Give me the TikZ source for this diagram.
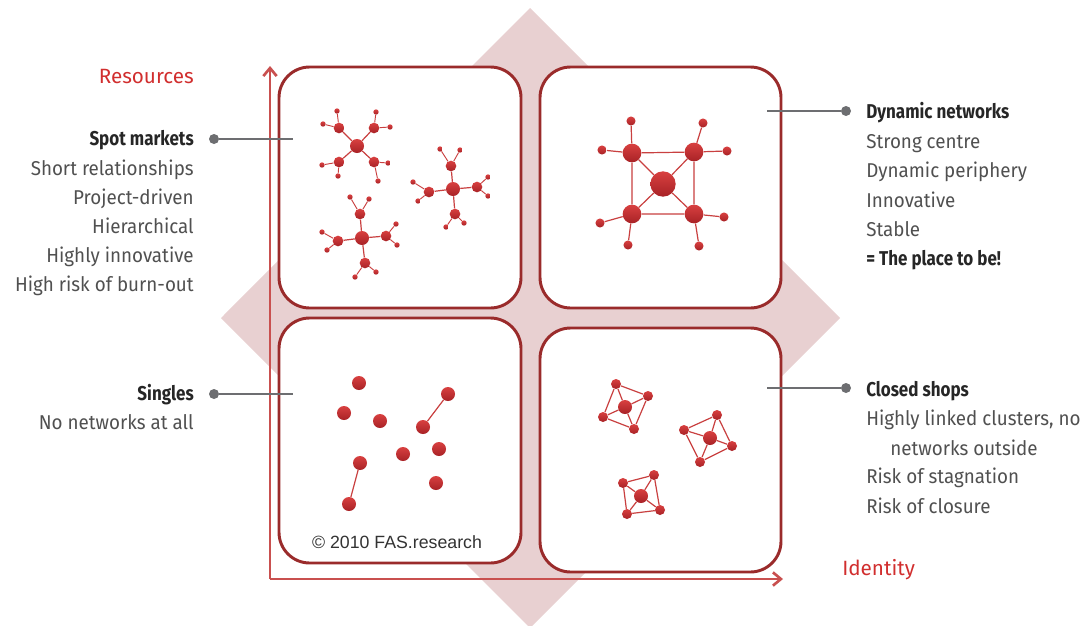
\documentclass[tikz,border=0pt]{standalone}
\usepackage{fontspec}
\setmainfont{Fira Sans}[UprightFeatures={FakeStretch=0.94},BoldFeatures={FakeStretch=0.85}]
\newfontfamily\axisfont{Fira Sans}
\newfontfamily\notefont{Liberation Sans}
\usepackage{tikz}
\usetikzlibrary{arrows.meta}
\definecolor{diamondpink}{HTML}{E8D0D1}
\definecolor{boxred}{HTML}{9A2B2B}
\definecolor{axisred}{HTML}{C9504F}
\definecolor{nodetop}{HTML}{D84040}
\definecolor{nodebot}{HTML}{A82226}
\definecolor{edgered}{HTML}{C94040}
\definecolor{labelred}{HTML}{D12E2E}
\definecolor{linkgray}{HTML}{6D6E71}
\definecolor{textgray}{HTML}{505050}

\begin{document}
\begin{tikzpicture}[x=0.75pt,y=-0.75pt,
	quadbox/.style={draw=boxred,line width=2.2pt,fill=white,rounded corners=23pt},
	axis/.style={axisred,line width=2pt,-{Straight Barb[length=6pt,width=10pt]}},
	ball/.style={circle,inner sep=0pt,top color=nodetop,bottom color=nodebot,draw=none},
	hub/.style={ball,minimum size=10.5pt},
	mid/.style={ball,minimum size=8pt},
	leaf/.style={ball,minimum size=4pt},
	bighub/.style={ball,minimum size=19pt},
	corner/.style={ball,minimum size=14pt},
	twig/.style={ball,minimum size=6.8pt},
	single/.style={ball,minimum size=10.5pt},
	knot/.style={ball,minimum size=7.5pt},
	link/.style={edgered,line width=0.9pt},
	thinlink/.style={edgered,line width=0.7pt},
	pin/.style={circle,fill=linkgray,inner sep=0pt,minimum size=7.5pt},
	lead/.style={linkgray,line width=1.7pt},
	head/.style={font=\bfseries\fontsize{15}{18}\selectfont,text=black!85,inner sep=0pt},
	body/.style={font=\fontsize{15}{18}\selectfont,text=textgray,inner sep=0pt},
	axislabel/.style={font=\axisfont\fontsize{15.5}{18}\selectfont,text=labelred,inner sep=0pt}]
\useasboundingbox (0,0) rectangle (1091,625);
\fill[diamondpink] (530,8) -- (840,318) -- (530,628) -- (221,318) -- cycle;

\draw[quadbox] (279,67) rectangle (521,308);
\draw[quadbox] (540,67) rectangle (781,308);
\draw[quadbox] (279,318) rectangle (521,563);
\draw[quadbox] (540,328) rectangle (781,572);

\coordinate (origin) at (270,579);
\coordinate (ytip) at (270,66);
\coordinate (xtip) at (783,579);
\draw[axis] (origin) -- (ytip);
\draw[axis] (origin) -- (xtip);
\node[axislabel,anchor=base east] (resources) at (194,83) {Resources};
\node[axislabel,anchor=base west] (identity) at (842,575) {Identity};

% spot markets
\node[hub] (a0) at (357,146) {};
\node[mid] (a1) at (339,128) {}; \node[mid] (a2) at (374,128) {};
\node[mid] (a3) at (339,162) {}; \node[mid] (a4) at (374,162) {};
\node[leaf] (a11) at (337,111) {}; \node[leaf] (a12) at (323,124) {};
\node[leaf] (a21) at (376,112) {}; \node[leaf] (a22) at (390,127) {};
\node[leaf] (a31) at (322,165) {}; \node[leaf] (a32) at (338,176) {};
\node[leaf] (a41) at (388,163) {}; \node[leaf] (a42) at (378,181) {};
\draw[link] (a0) -- (a1) (a0) -- (a2) (a0) -- (a3) (a0) -- (a4);
\draw[thinlink] (a1) -- (a11) (a1) -- (a12) (a2) -- (a21) (a2) -- (a22);
\draw[thinlink] (a3) -- (a31) (a3) -- (a32) (a4) -- (a41) (a4) -- (a42);

\node[hub] (b0) at (453,189) {};
\node[mid] (b1) at (451,166) {}; \node[mid] (b2) at (429,192) {};
\node[mid] (b3) at (477,187) {}; \node[mid] (b4) at (455,214) {};
\node[leaf] (b11) at (440,149) {}; \node[leaf] (b12) at (460,150) {};
\node[leaf] (b21) at (413,182) {}; \node[leaf] (b22) at (418,201) {};
\node[leaf] (b31) at (488,177) {}; \node[leaf] (b32) at (488,196) {};
\node[leaf] (b41) at (446,227) {}; \node[leaf] (b42) at (464,223) {};
\draw[link] (b0) -- (b1) (b0) -- (b2) (b0) -- (b3) (b0) -- (b4);
\draw[thinlink] (b1) -- (b11) (b1) -- (b12) (b2) -- (b21) (b2) -- (b22);
\draw[thinlink] (b3) -- (b31) (b3) -- (b32) (b4) -- (b41) (b4) -- (b42);

\node[hub] (c0) at (362,238) {};
\node[mid] (c1) at (360,214) {}; \node[mid] (c2) at (338,241) {};
\node[mid] (c3) at (386,236) {}; \node[mid] (c4) at (365,263) {};
\node[leaf] (c11) at (350,197) {}; \node[leaf] (c12) at (369,199) {};
\node[leaf] (c21) at (322,232) {}; \node[leaf] (c22) at (327,250) {};
\node[leaf] (c31) at (396,224) {}; \node[leaf] (c32) at (397,245) {};
\node[leaf] (c41) at (355,277) {}; \node[leaf] (c42) at (376,272) {};
\draw[link] (c0) -- (c1) (c0) -- (c2) (c0) -- (c3) (c0) -- (c4);
\draw[thinlink] (c1) -- (c11) (c1) -- (c12) (c2) -- (c21) (c2) -- (c22);
\draw[thinlink] (c3) -- (c31) (c3) -- (c32) (c4) -- (c41) (c4) -- (c42);

% dynamic networks
\node[bighub] (d0) at (663,184) {};
\node[corner] (d1) at (632,153) {}; \node[corner] (d2) at (694,152) {};
\node[corner] (d3) at (632,214) {}; \node[corner] (d4) at (694,214) {};
\node[twig] (d11) at (631,121) {}; \node[twig] (d12) at (602,150) {};
\node[twig] (d21) at (703,123) {}; \node[twig] (d22) at (727,151) {};
\node[twig] (d31) at (600,223) {}; \node[twig] (d32) at (628,245) {};
\node[twig] (d41) at (724,217) {}; \node[twig] (d42) at (699,246) {};
\draw[link] (d1) -- (d2) -- (d4) -- (d3) -- (d1);
\draw[link] (d0) -- (d1) (d0) -- (d2) (d0) -- (d3) (d0) -- (d4);
\draw[link] (d1) -- (d11) (d1) -- (d12) (d2) -- (d21) (d2) -- (d22);
\draw[link] (d3) -- (d31) (d3) -- (d32) (d4) -- (d41) (d4) -- (d42);

% singles
\node[single] (s1) at (359,383) {}; \node[single] (s2) at (344,413) {};
\node[single] (s3) at (380,421) {}; \node[single] (s4) at (448,394) {};
\node[single] (s5) at (423,427) {}; \node[single] (s6) at (403,454) {};
\node[single] (s7) at (439,449) {}; \node[single] (s8) at (360,463) {};
\node[single] (s9) at (436,483) {}; \node[single] (s10) at (349,504) {};
\draw[link] (s4) -- (s5) (s8) -- (s10);
\node[font=\notefont\fontsize{13.3}{16}\selectfont,text=black!80,inner sep=0pt,anchor=base] (note) at (397,548) {\textcopyright{} 2010 FAS.research};

% closed shops
\node[hub] (e0) at (625,407) {};
\node[knot] (e1) at (616,384) {}; \node[knot] (e2) at (648,396) {};
\node[knot] (e3) at (634,429) {}; \node[knot] (e4) at (603,417) {};
\draw[link] (e1) -- (e2) -- (e3) -- (e4) -- (e1);
\draw[link] (e0) -- (e1) (e0) -- (e2) (e0) -- (e3) (e0) -- (e4);

\node[hub] (f0) at (710,438) {};
\node[knot] (f1) at (717,415) {}; \node[knot] (f2) at (732,446) {};
\node[knot] (f3) at (700,462) {}; \node[knot] (f4) at (684,430) {};
\draw[link] (f1) -- (f2) -- (f3) -- (f4) -- (f1);
\draw[link] (f0) -- (f1) (f0) -- (f2) (f0) -- (f3) (f0) -- (f4);

\node[hub] (g0) at (641,496) {};
\node[knot] (g1) at (654,475) {}; \node[knot] (g2) at (660,510) {};
\node[knot] (g3) at (627,514) {}; \node[knot] (g4) at (623,483) {};
\draw[link] (g1) -- (g2) -- (g3) -- (g4) -- (g1);
\draw[link] (g0) -- (g1) (g0) -- (g2) (g0) -- (g3) (g0) -- (g4);

% labels left
\node[pin] (spotpin) at (214,139) {};
\coordinate (spotend) at (293,139);
\draw[lead] (spotpin) -- (spotend);
\node[head,anchor=base east] (spot) at (194,145) {Spot markets};
\node[body,anchor=base east] (spot1) at (194,175) {Short relationships};
\node[body,anchor=base east] (spot2) at (194,204) {Project-driven};
\node[body,anchor=base east] (spot3) at (194,233) {Hierarchical};
\node[body,anchor=base east] (spot4) at (194,262) {Highly innovative};
\node[body,anchor=base east] (spot5) at (194,291) {High risk of burn-out};

\node[pin] (singlepin) at (214,394) {};
\coordinate (singleend) at (293,394);
\draw[lead] (singlepin) -- (singleend);
\node[head,anchor=base east] (singles) at (194,400) {Singles};
\node[body,anchor=base east] (singles1) at (194,429) {No networks at all};

% labels right
\node[pin] (dynpin) at (846,111) {};
\coordinate (dynend) at (767,111);
\draw[lead] (dynpin) -- (dynend);
\node[head,anchor=base west] (dyn) at (866,118) {Dynamic networks};
\node[body,anchor=base west] (dyn1) at (866,148) {Strong centre};
\node[body,anchor=base west] (dyn2) at (866,177) {Dynamic periphery};
\node[body,anchor=base west] (dyn3) at (866,207) {Innovative};
\node[body,anchor=base west] (dyn4) at (866,236) {Stable};
\node[head,anchor=base west] (dyn5) at (866,265) {= The place to be!};

\node[pin] (closedpin) at (846,388) {};
\coordinate (closedend) at (767,388);
\draw[lead] (closedpin) -- (closedend);
\node[head,anchor=base west] (closed) at (866,396) {Closed shops};
\node[body,anchor=base west] (closed1) at (866,425) {Highly linked clusters, no};
\node[body,anchor=base west] (closed2) at (890,455) {networks outside};
\node[body,anchor=base west] (closed3) at (866,483) {Risk of stagnation};
\node[body,anchor=base west] (closed4) at (866,513) {Risk of closure};
\end{tikzpicture}
\end{document}
